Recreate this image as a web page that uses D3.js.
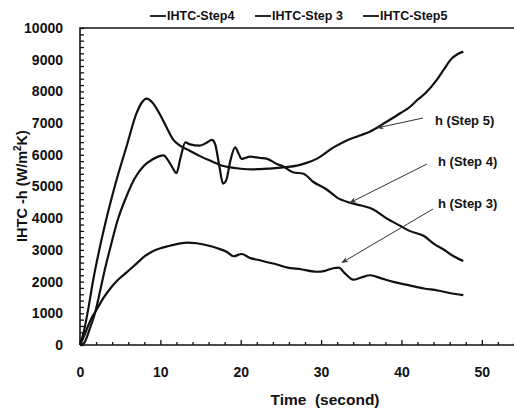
<!DOCTYPE html>
<html>
<head>
<meta charset="utf-8">
<script src="https://cdn.jsdelivr.net/npm/d3@7"></script>
<style>
  body { margin: 0; background: #fff; }
  svg { display: block; font-family: "Liberation Sans", Arial, sans-serif; }
  .axis path { display: none; }
  .lbl text { font-weight: bold; font-size: 14px; fill: #111; }
</style>
</head>
<body>
<div id="chart"></div>
<script>
// IHTC values: [time (s), h (W/m2K)]
let step5 = [[0,0],[0.5,450],[1,1100],[1.66,2075],[2.4,3000],[3.5,4200],[4.6,5250],[5.8,6270],[7.05,7320],
  [7.7,7650],[8.3,7770],[9,7650],[10,7250],[10.8,6850],[11.6,6480],[12.45,6290],[13.5,6150],[15,5950],
  [16.5,5780],[17.4,5680],[18.5,5610],[20,5560],[21.5,5540],[22.4,5550],[24,5570],[25.5,5610],[27,5660],
  [28.2,5745],[29.5,5880],[31.5,6226],[33,6430],[34.5,6580],[36,6720],[36.9,6845],[38,7020],[39.9,7318],
  [41,7500],[42,7736],[43,7950],[44.4,8365],[45.3,8700],[46.1,8994],[47,9180],[47.7,9255]];

let step4 = [[0,0],[0.5,60],[1.2,500],[1.9,1040],[2.5,1700],[3.1,2390],[3.7,3000],[4.7,3950],[5.8,4700],
  [6.8,5250],[7.9,5640],[9,5850],[9.8,5950],[10.4,5980],[10.9,5850],[11.5,5600],[12,5420],[12.5,5900],
  [13.1,6390],[13.7,6330],[14.9,6290],[15.8,6390],[16.4,6470],[16.8,6350],[17.3,5700],[17.8,5090],
  [18.2,5200],[18.7,5800],[19.3,6235],[19.8,6000],[20.1,5870],[21.2,5940],[22.4,5900],[23.2,5880],
  [24.5,5710],[25.3,5630],[26.5,5450],[27.8,5400],[29,5150],[30.7,4906],[32,4650],[33.6,4487],[35,4400],
  [36.5,4277],[38,4020],[39.9,3752],[41,3600],[42.8,3437],[44,3200],[45.2,3019],[46.5,2800],[47.7,2650]];

let step3 = [[0,0],[0.5,280],[1,600],[1.5,880],[2.1,1130],[2.9,1480],[3.7,1760],[4.7,2050],[5.8,2290],
  [7,2560],[8.1,2808],[9,2950],[10,3050],[11.5,3150],[13.3,3230],[14.5,3210],[15.8,3145],[17,3060],
  [18.3,2934],[19.1,2800],[20.1,2870],[21.2,2740],[22.4,2673],[23.2,2620],[24.5,2540],[25.7,2450],
  [27.5,2390],[29.5,2310],[30.5,2340],[31.5,2420],[32.2,2440],[33,2250],[34,2060],[35,2130],[36.1,2200],
  [37.5,2100],[39,1990],[41,1880],[42.8,1783],[44.5,1720],[46,1640],[47.7,1572]];

let legendNames = ["IHTC-Step4", "IHTC-Step 3", "IHTC-Step5"];
let xTicks = [0, 10, 20, 30, 40, 50];
let yTicks = [0,1000,2000,3000,4000,5000,6000,7000,8000,9000,10000];

// annotation labels with [time, h] of the arrow tip
let notes = [
  {text: "h (Step 5)", tip: [37.0, 6850]},
  {text: "h (Step 4)", tip: [33.6, 4490]},
  {text: "h (Step 3)", tip: [32.6, 2600]}
];

////////////////////////////////////////////////////////////////////////

let width = 514, height = 409;
let svg = d3.select("#chart").append("svg")
  .attr("width", width).attr("height", height);

let x = d3.scaleLinear().domain([0, 55]).range([80, 522]);
let y = d3.scaleLinear().domain([0, 10000]).range([345, 28]);

// arrow marker
svg.append("defs").append("marker")
  .attr("id", "arr").attr("viewBox", "0 0 10 10")
  .attr("refX", 9).attr("refY", 5)
  .attr("markerWidth", 7).attr("markerHeight", 7)
  .attr("orient", "auto")
  .append("path").attr("d", "M0,1 L10,5 L0,9 L3,5 Z").attr("fill", "#333");

// frame: top, left, bottom
svg.append("path")
  .attr("d", "M" + x(0) + "," + y(0) + "V" + y(10000) + "H" + width + "M" + x(0) + "," + y(0) + "H" + width)
  .attr("fill", "none").attr("stroke", "#111").attr("stroke-width", 1.6);

// minor ticks, inside the plot
svg.append("g").attr("class", "axis")
  .attr("transform", "translate(" + x(0) + ",0)")
  .call(d3.axisRight(y).tickValues(d3.range(0, 10001, 200)).tickSize(4).tickFormat(""))
  .selectAll("line").attr("stroke", "#111").attr("stroke-width", 1.3);

svg.append("g").attr("class", "axis")
  .attr("transform", "translate(0," + y(0) + ")")
  .call(d3.axisTop(x).tickValues(d3.range(2, 55, 2).filter(v => v % 10 != 0)).tickSize(3).tickFormat(""))
  .selectAll("line").attr("stroke", "#111").attr("stroke-width", 1.3);

svg.append("g").attr("class", "axis")
  .attr("transform", "translate(0," + y(0) + ")")
  .call(d3.axisTop(x).tickValues(xTicks).tickSize(5).tickFormat(""))
  .selectAll("line").attr("stroke", "#111").attr("stroke-width", 1.3);

// tick labels
svg.append("g").attr("class", "axis lbl")
  .attr("transform", "translate(" + x(0) + ",0)")
  .call(d3.axisLeft(y).tickValues(yTicks).tickSize(0).tickPadding(17).tickFormat(d3.format("d")))
  .selectAll("line").remove();

svg.append("g").attr("class", "axis lbl")
  .attr("transform", "translate(0," + y(0) + ")")
  .call(d3.axisBottom(x).tickValues(xTicks).tickSize(0).tickPadding(22))
  .selectAll("line").remove();

// axis titles
svg.append("text")
  .attr("x", 325).attr("y", 405)
  .attr("text-anchor", "middle")
  .style("font-weight", "bold").style("font-size", "15.5px").attr("fill", "#111")
  .text("Time  (second)").attr("xml:space", "preserve");

let yTitle = svg.append("text")
  .attr("transform", "translate(27,186) rotate(-90)")
  .attr("text-anchor", "middle")
  .style("font-weight", "bold").style("font-size", "14.5px").attr("fill", "#111");
yTitle.append("tspan").text("IHTC -h (W/m");
yTitle.append("tspan").attr("dy", -6).style("font-size", "10px").text("2");
yTitle.append("tspan").attr("dy", 6).text("K)");

// data lines
let line = d3.line()
  .x(d => x(d[0]))
  .y(d => y(d[1]))
  .curve(d3.curveMonotoneX);

svg.append("g")
  .selectAll(".datapath")
  .data([step4, step3, step5])
  .enter()
  .append("path")
  .attr("class", "datapath")
  .attr("d", line)
  .attr("fill", "none")
  .attr("stroke", "#111")
  .attr("stroke-width", 2.2)
  .attr("stroke-linejoin", "round");

// legend
let legendX = [150, 255, 363];
let lg = svg.append("g").selectAll("g")
  .data(legendNames)
  .enter()
  .append("g")
  .attr("transform", (d, i) => "translate(" + legendX[i] + ",16)");
lg.append("line").attr("x1", 0).attr("x2", 16).attr("stroke", "#111").attr("stroke-width", 1.8);
lg.append("text").attr("x", 17).attr("dy", "0.35em")
  .style("font-weight", "bold").style("font-size", "12.5px").attr("fill", "#111")
  .text(d => d);

// annotations
let labelPos = [[435, 120], [438, 161], [438, 203]];
let arrowStart = [[423, 118], [427, 164], [433, 209]];
notes.forEach(function(n, i) {
  svg.append("line")
    .attr("x1", arrowStart[i][0]).attr("y1", arrowStart[i][1])
    .attr("x2", x(n.tip[0])).attr("y2", y(n.tip[1]))
    .attr("stroke", "#333").attr("stroke-width", 1)
    .attr("marker-end", "url(#arr)");
  svg.append("text")
    .attr("x", labelPos[i][0]).attr("y", labelPos[i][1]).attr("dy", "0.35em")
    .style("font-weight", "bold").style("font-size", "13px").attr("fill", "#111")
    .text(n.text);
});
</script>
</body>
</html>
